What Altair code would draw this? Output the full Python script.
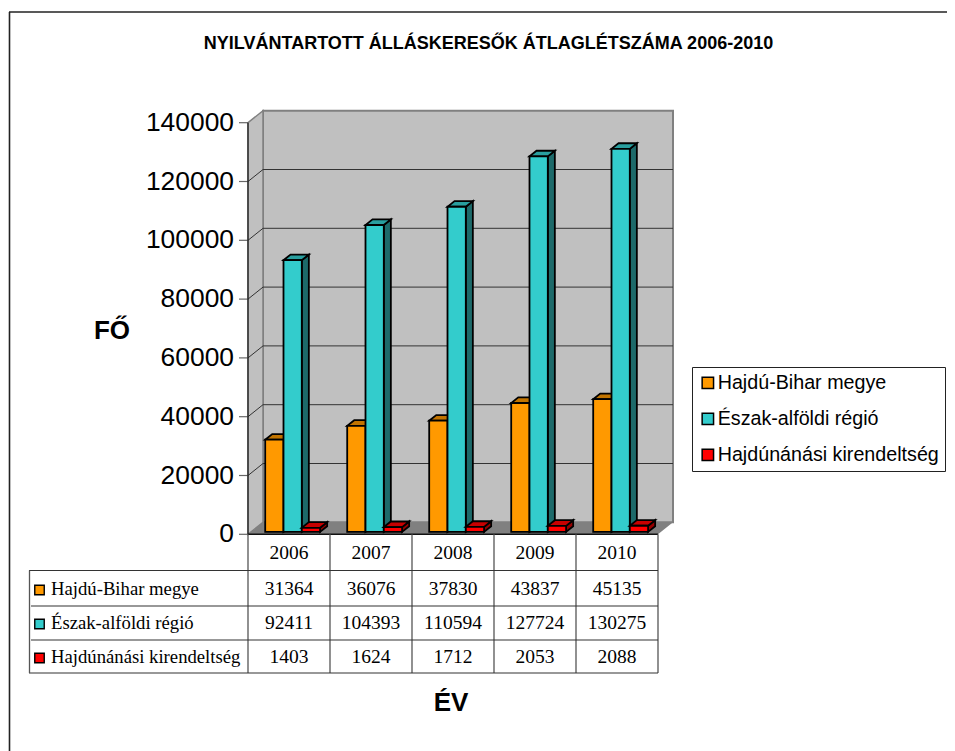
import altair as alt
import pandas as pd

# ---- data ----
YEARS = ["2006", "2007", "2008", "2009", "2010"]
SERIES = ["Hajdú-Bihar megye", "Észak-alföldi régió", "Hajdúnánási kirendeltség"]
HAJDU_BIHAR = [31364, 36076, 37830, 43837, 45135]
ESZAK_ALFOLD = [92411, 104393, 110594, 127724, 130275]
HAJDUNANAS = [1403, 1624, 1712, 2053, 2088]
VALUES = [HAJDU_BIHAR, ESZAK_ALFOLD, HAJDUNANAS]
Y_TICKS = [0, 20000, 40000, 60000, 80000, 100000, 120000, 140000]

FRONT = ["#FF9900", "#33CCCC", "#FF0000"]
TOP = ["#C27400", "#299F9F", "#C80000"]
SIDE = ["#996600", "#1D6A6A", "#960000"]

# ---- layout: page pixels <-> data units ----
OX, OY = 8, 8
W, H = 939, 743
X0, STEP = 248.0, 82.0       # page x of first category, px per category
Y0, PX_FULL = 534.3, 411.6   # page y of value 0, px for 140000
K = 140000 / PX_FULL
DX, DY = 15 / STEP, 12 * K   # depth of the box in data units
BAR_W = 18.3 / STEP
BAR_START = 14.2 / STEP
D_FRONT, D_BACK = 0.2, 0.67

x_scale = alt.Scale(domain=[(OX - X0) / STEP, (OX + W - X0) / STEP], nice=False, zero=False)
y_scale = alt.Scale(domain=[(Y0 - (OY + H)) * K, (Y0 - OY) * K], nice=False, zero=False)
color_scale = alt.Scale(domain=SERIES, range=FRONT)

X = alt.X("x:Q", scale=x_scale, axis=None)
Y = alt.Y("y:Q", scale=y_scale, axis=None)


def px(v):
    return alt.value(v - OX)


def py(v):
    return alt.value(v - OY)


layers = []

# border
BLANK = alt.Data(values=[{"a": 0}])
layers.append(alt.Chart(BLANK).mark_rule(color="#222222", strokeWidth=1.6).encode(
    x=px(9.5), x2=px(9.5), y=py(12), y2=py(751)))
layers.append(alt.Chart(BLANK).mark_rule(color="#222222", strokeWidth=1.6).encode(
    x=px(9), x2=px(955), y=py(12)))

# walls and floor
back = pd.DataFrame({"x": [DX, 5 + DX], "y": [DY, DY], "y2": [140000 + DY, 140000 + DY]})
left = pd.DataFrame({"x": [0, DX], "y": [0, DY], "y2": [140000, 140000 + DY]})
floor = pd.DataFrame({"x": [0, DX, 5, 5 + DX], "y": [0, 0, 0, DY], "y2": [0, DY, DY, DY]})
layers.append(alt.Chart(back).mark_area(color="#C0C0C0", stroke="#808080", strokeWidth=2).encode(
    x=X, y=Y, y2="y2:Q"))
layers.append(alt.Chart(left).mark_area(color="#C0C0C0", stroke="#808080", strokeWidth=1.5).encode(
    x=X, y=Y, y2="y2:Q"))
layers.append(alt.Chart(floor).mark_area(color="#808080").encode(x=X, y=Y, y2="y2:Q"))

# grid lines: left wall diagonal + back wall
grid_rows = []
for v in Y_TICKS[1:-1]:
    grid_rows += [{"v": v, "x": 0, "y": v}, {"v": v, "x": DX, "y": v + DY}, {"v": v, "x": 5 + DX, "y": v + DY}]
layers.append(alt.Chart(pd.DataFrame(grid_rows)).mark_line(color="#333333", strokeWidth=1).encode(
    x=X, y=Y, detail="v:Q"))
# front axis lines, ticks and tick labels
tick_df = pd.DataFrame({"y": Y_TICKS, "t": [str(v) for v in Y_TICKS]})
layers.append(alt.Chart(tick_df).mark_rule(color="#666666", strokeWidth=1.2).encode(
    x=px(239), x2=px(X0), y=Y))
layers.append(alt.Chart(tick_df).mark_text(
    align="right", baseline="middle", font="Liberation Sans", fontSize=26.4, color="black").encode(
    x=px(234), y=Y, text="t:N"))
layers.append(alt.Chart(pd.DataFrame({"x": [0, 0], "y": [0, 140000]})).mark_line(color="#222222", strokeWidth=1.3).encode(x=X, y=Y))
layers.append(alt.Chart(pd.DataFrame({"x": [0, 5], "y": [0, 0]})).mark_line(color="#111111", strokeWidth=1.6).encode(x=X, y=Y))

# bars (oblique projection of value/category data)
STROKE = dict(stroke="black", strokeWidth=1.8)
for s, name in enumerate(SERIES):
    side_rows, top_rows, front_rows = [], [], []
    for i, (yr, v) in enumerate(zip(YEARS, VALUES[s])):
        a = i + BAR_START + s * BAR_W
        fx = D_FRONT * DX
        bx = D_BACK * DX
        fy = D_FRONT * DY
        by = D_BACK * DY
        x1 = a + fx
        x2 = a + fx + BAR_W
        x3 = a + bx
        x4 = a + bx + BAR_W
        side_rows += [
            {"yr": yr, "x": x2, "y": fy, "y2": v + fy},
            {"yr": yr, "x": x4, "y": by, "y2": v + by},
        ]
        top_rows += [
            {"yr": yr, "x": x1, "y": v + fy, "y2": v + fy},
            {"yr": yr, "x": x3, "y": v + fy, "y2": v + by},
            {"yr": yr, "x": x2, "y": v + fy, "y2": v + by},
            {"yr": yr, "x": x4, "y": v + by, "y2": v + by},
        ]
        front_rows.append({"series": name, "x": x1, "x2": x2, "y": fy, "y2": v + fy})
    layers.append(alt.Chart(pd.DataFrame(side_rows)).mark_area(color=SIDE[s], **STROKE).encode(
        x=X, y=Y, y2="y2:Q", detail="yr:N"))
    layers.append(alt.Chart(pd.DataFrame(top_rows)).mark_area(color=TOP[s], **STROKE).encode(
        x=X, y=Y, y2="y2:Q", detail="yr:N"))
    legend = None
    if s == 0:
        legend = alt.Legend(
            title=None, orient="none", legendX=692 - OX, legendY=367 - OY, fillColor="white",
            strokeColor="#222222", padding=6, symbolType="square", symbolSize=130,
            symbolStrokeColor="black", symbolStrokeWidth=1.5, labelFont="Liberation Sans",
            labelFontSize=19.7, labelColor="black", rowPadding=15, labelLimit=400, labelOffset=0)
    layers.append(alt.Chart(pd.DataFrame(front_rows)).mark_rect(**STROKE).encode(
        x=X, x2="x2:Q", y=Y, y2="y2:Q",
        color=alt.Color("series:N", scale=color_scale, legend=legend)))

# data table lines
TBL_COLOR = "#555555"
for i in range(6):
    layers.append(alt.Chart(pd.DataFrame({"x": [i]})).mark_rule(color=TBL_COLOR, strokeWidth=1.3).encode(
        x=X, y=py(Y0), y2=py(673)))
for y_line, x_left in [(570.5, 29), (606, 31), (640, 31), (673, 29)]:
    layers.append(alt.Chart(BLANK).mark_rule(color="#333333", strokeWidth=1.1).encode(
        x=px(x_left), x2=px(X0 + 5 * STEP), y=py(y_line)))
layers.append(alt.Chart(BLANK).mark_rule(color=TBL_COLOR, strokeWidth=1.3).encode(
    x=px(29.5), x2=px(29.5), y=py(570.5), y2=py(673)))

# table text
SERIF = dict(font="Liberation Serif", color="black", baseline="middle")
ROW_Y = [589, 623, 657]
layers.append(alt.Chart(pd.DataFrame({"x": [i + 0.5 for i in range(5)], "t": YEARS})).mark_text(
    fontSize=19.5, **SERIF).encode(x=X, y=py(552.5), text="t:N"))
for s, name in enumerate(SERIES):
    layers.append(alt.Chart(pd.DataFrame({"x": [i + 0.5 for i in range(5)], "t": [str(v) for v in VALUES[s]]})).mark_text(
        fontSize=19.5, **SERIF).encode(x=X, y=py(ROW_Y[s]), text="t:N"))
    layers.append(alt.Chart(pd.DataFrame({"series": [name]})).mark_text(
        fontSize=18.7, align="left", **SERIF).encode(x=px(51), y=py(ROW_Y[s]), text="series:N"))
    layers.append(alt.Chart(pd.DataFrame({"series": [name]})).mark_square(
        size=90, opacity=1, stroke="black", strokeWidth=1.4).encode(
        x=px(39.5), y=py(ROW_Y[s] + 1),
        color=alt.Color("series:N", scale=color_scale, legend=None)))

# titles
BOLD = dict(font="Liberation Sans", fontWeight="bold", color="black", baseline="middle")
layers.append(alt.Chart(pd.DataFrame({"t": ["NYILVÁNTARTOTT ÁLLÁSKERESŐK ÁTLAGLÉTSZÁMA 2006-2010"]})).mark_text(
    fontSize=18, **BOLD).encode(x=px(488.5), y=py(44), text="t:N"))
layers.append(alt.Chart(pd.DataFrame({"t": ["FŐ"]})).mark_text(
    fontSize=26, **BOLD).encode(x=px(112), y=py(331), text="t:N"))
layers.append(alt.Chart(pd.DataFrame({"t": ["ÉV"]})).mark_text(
    fontSize=26, **BOLD).encode(x=px(451), y=py(703), text="t:N"))

chart = alt.layer(*layers).properties(
    width=W, height=H, padding=0, autosize=alt.AutoSizeParams(type="none"), background="white"
).configure_view(stroke=None)

chart.save("out.html", embed_options={"renderer": "svg", "actions": False})
